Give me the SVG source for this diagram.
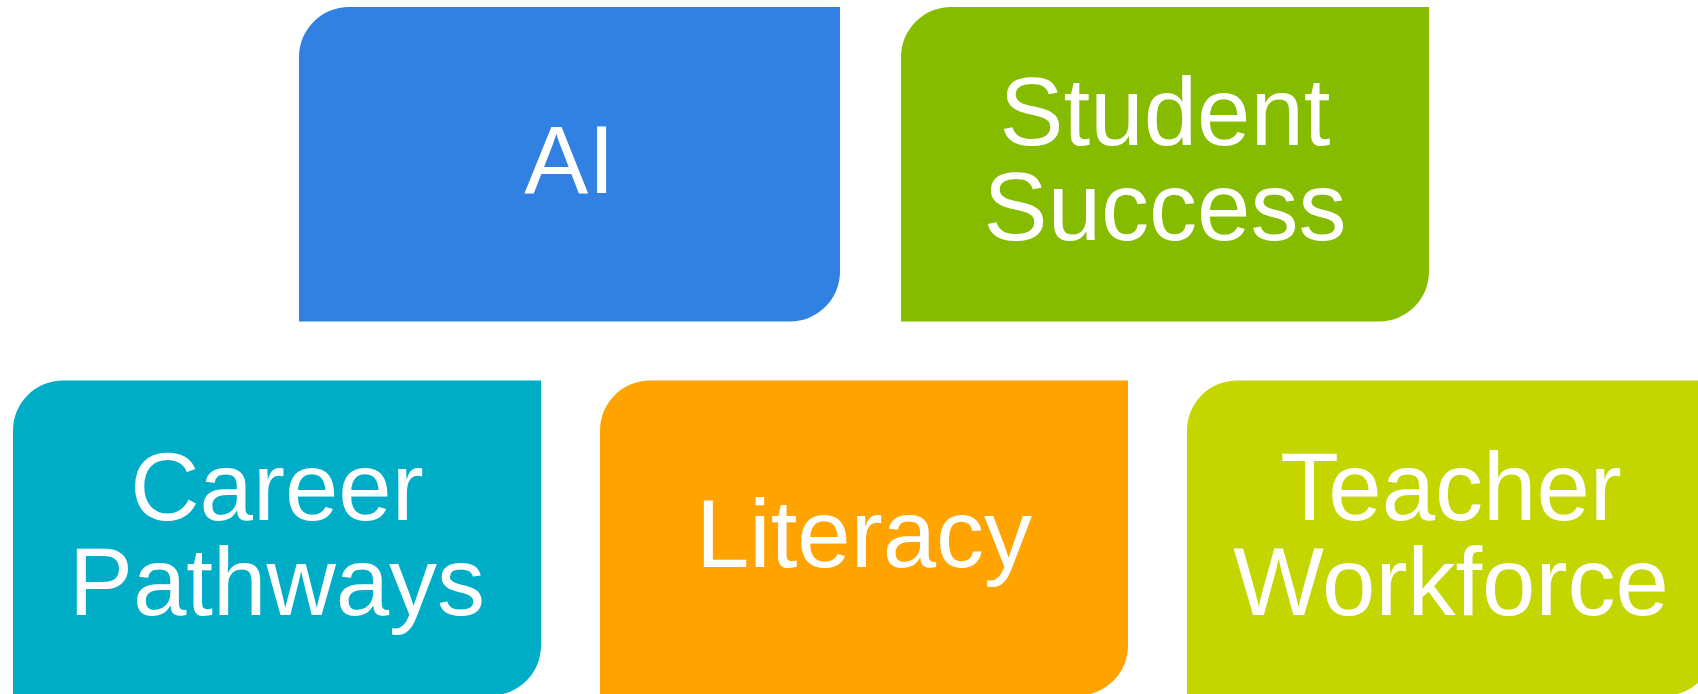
<svg xmlns="http://www.w3.org/2000/svg" width="1698" height="694" viewBox="0 0 1698 694">
<style>
.lbl{font-family:"Liberation Sans",Arial,sans-serif;font-size:96px;fill:#ffffff;text-anchor:middle}
</style>
<rect width="1698" height="694" fill="#ffffff"/>
<g id="connectors"></g>
<g id="node-ai">
<path d="M349,7 H840 V271.5 A50,50 0 0 1 790,321.5 H299 V57 A50,50 0 0 1 349,7 Z" fill="#3181E2"/>
<text class="lbl" x="569.5" y="193">AI</text>
</g>
<g id="node-student-success">
<path d="M951,7 H1429 V271.5 A50,50 0 0 1 1379,321.5 H901 V57 A50,50 0 0 1 951,7 Z" fill="#86BC00"/>
<text class="lbl" x="1165" y="145">Student</text>
<text class="lbl" x="1165" y="240">Success</text>
</g>
<g id="node-career-pathways">
<path d="M63,380.5 H541 V645.5 A50,50 0 0 1 491,695.5 H13 V430.5 A50,50 0 0 1 63,380.5 Z" fill="#00ADC7"/>
<text class="lbl" x="277" y="519.5">Career</text>
<text class="lbl" x="277" y="614.5">Pathways</text>
</g>
<g id="node-literacy">
<path d="M650,380.5 H1128 V645.5 A50,50 0 0 1 1078,695.5 H600 V430.5 A50,50 0 0 1 650,380.5 Z" fill="#FFA300"/>
<text class="lbl" x="864" y="567">Literacy</text>
</g>
<g id="node-teacher-workforce">
<path d="M1237,380.5 H1715 V645.5 A50,50 0 0 1 1665,695.5 H1187 V430.5 A50,50 0 0 1 1237,380.5 Z" fill="#C4D600"/>
<text class="lbl" x="1451" y="519.5">Teacher</text>
<text class="lbl" x="1451" y="614.5">Workforce</text>
</g>
</svg>
